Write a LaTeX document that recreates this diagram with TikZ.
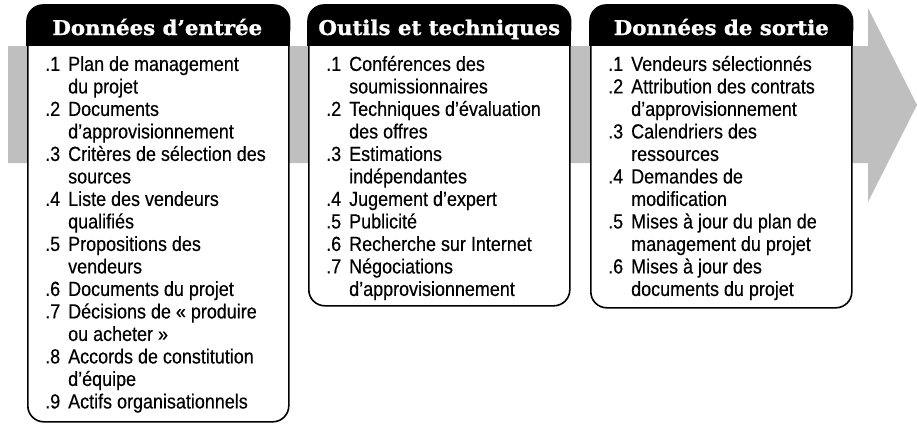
\documentclass[tikz,border=0pt]{standalone}
\usepackage{fontspec}
\setmainfont{Liberation Sans}[FakeStretch=0.88, FakeBold=0.4]
\newfontfamily\hdrfont{DejaVu Serif}[FakeBold=1.3, FakeStretch=1.05]
\definecolor{arrowgray}{RGB}{191,191,191}
\begin{document}
\begin{tikzpicture}[x=1pt,y=-1pt,
  boxframe/.style={draw=black, line width=1.6pt, fill=white, rounded corners=16pt,
    minimum width=261pt, anchor=north west, inner sep=0pt},
  hdrbar/.style={fill=black, draw=black, line width=1.6pt},
  hdr/.style={text=white, font=\hdrfont\bfseries\fontsize{20.3}{21}\selectfont, inner sep=0pt, anchor=base},
  items/.style={anchor=north west, inner sep=0pt, align=left, font=\fontsize{20.4}{22.5}\selectfont}]
\useasboundingbox (0,0) rectangle (917,423);
% gray process arrow
\fill[arrowgray] (8,46) -- (868,46) -- (868,8) -- (917,105) -- (868,202) -- (868,163) -- (8,163) -- cycle;
% boxes
\node[boxframe, minimum height=416pt] (b1) at (27,5) {};
\node[boxframe, minimum height=300pt] (b2) at (308,5) {};
\node[boxframe, minimum height=302pt] (b3) at (590,5) {};
% header bars
\foreach \b in {b1,b2,b3}{
  \filldraw[hdrbar, rounded corners=16pt] (\b.north west) rectangle ([yshift=-40pt]\b.north east);
  \filldraw[hdrbar] ([yshift=-20pt]\b.north west) rectangle ([yshift=-40pt]\b.north east);
}
\path (b1.north) ++(-1,30) node[hdr] (h1) {Données d’entrée};
\path (b2.north) ++(0,30) node[hdr] (h2) {Outils et techniques};
\path (b3.north) ++(0,30) node[hdr] (h3) {Données de sortie};
% item lists
\path (b1.north west) ++(18,50) node[items] (t1) {%
\begin{tabular}{@{}p{23pt}@{}l@{}}
.1 & Plan de management\\
   & du projet\\
.2 & Documents\\
   & d’approvisionnement\\
.3 & Critères de sélection des\\
   & sources\\
.4 & Liste des vendeurs\\
   & qualifiés\\
.5 & Propositions des\\
   & vendeurs\\
.6 & Documents du projet\\
.7 & Décisions de « produire\\
   & ou acheter »\\
.8 & Accords de constitution\\
   & d’équipe\\
.9 & Actifs organisationnels
\end{tabular}};
\path (b2.north west) ++(18,50) node[items] (t2) {%
\begin{tabular}{@{}p{23pt}@{}l@{}}
.1 & Conférences des\\
   & soumissionnaires\\
.2 & Techniques d’évaluation\\
   & des offres\\
.3 & Estimations\\
   & indépendantes\\
.4 & Jugement d’expert\\
.5 & Publicité\\
.6 & Recherche sur Internet\\
.7 & Négociations\\
   & d’approvisionnement
\end{tabular}};
\path (b3.north west) ++(18,50) node[items] (t3) {%
\begin{tabular}{@{}p{23pt}@{}l@{}}
.1 & Vendeurs sélectionnés\\
.2 & Attribution des contrats\\
   & d’approvisionnement\\
.3 & Calendriers des\\
   & ressources\\
.4 & Demandes de\\
   & modification\\
.5 & Mises à jour du plan de\\
   & management du projet\\
.6 & Mises à jour des\\
   & documents du projet
\end{tabular}};
\end{tikzpicture}
\end{document}
